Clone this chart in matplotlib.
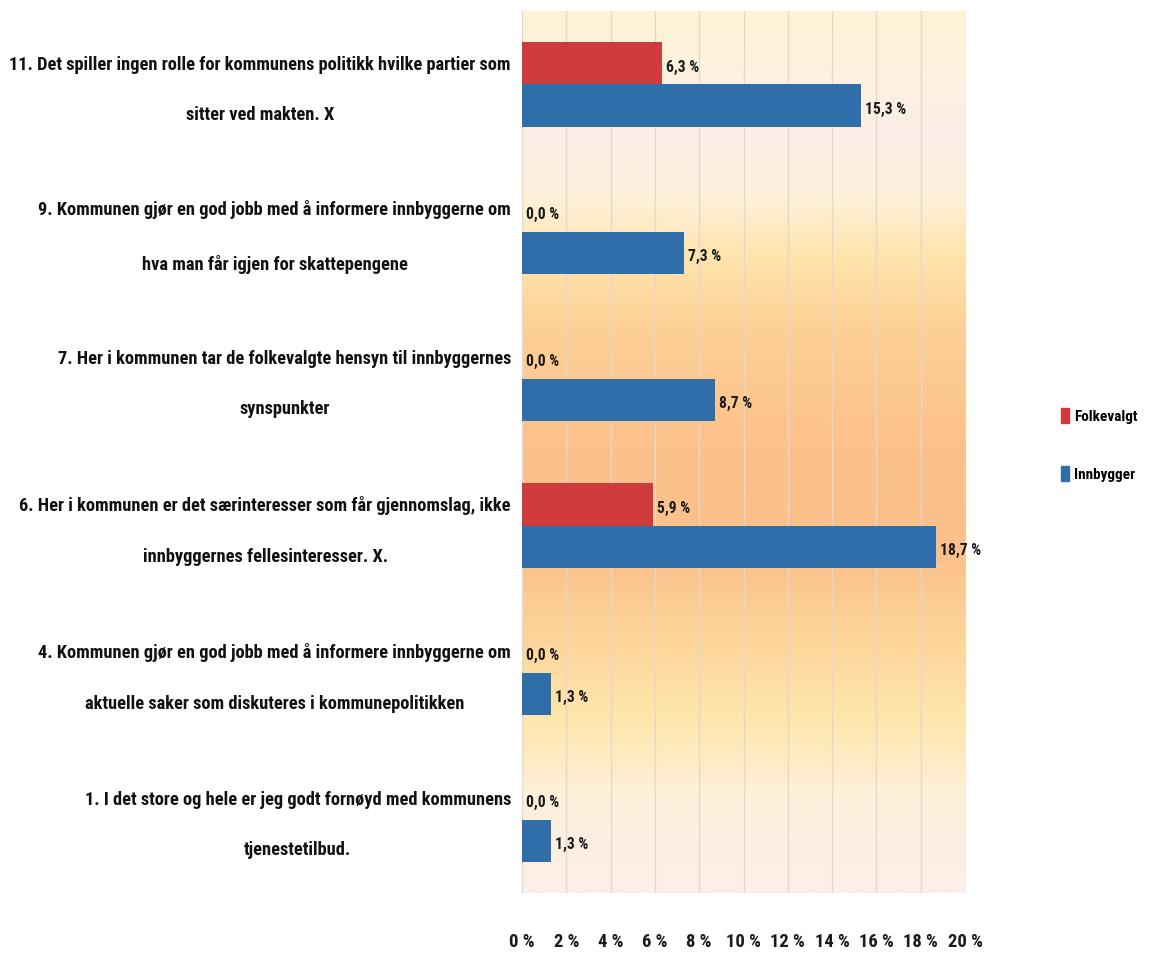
import numpy as np
import matplotlib
matplotlib.use("Agg")
import matplotlib.pyplot as plt
from matplotlib import font_manager as fm
from matplotlib import transforms as mtransforms
from matplotlib.colors import LinearSegmentedColormap
from matplotlib.patches import Patch

# ---------------- data ----------------
categories = [
    "11. Det spiller ingen rolle for kommunens politikk hvilke partier som\nsitter ved makten. X",
    "9. Kommunen gjør en god jobb med å informere innbyggerne om\nhva man får igjen for skattepengene",
    "7. Her i kommunen tar de folkevalgte hensyn til innbyggernes\nsynspunkter",
    "6. Her i kommunen er det særinteresser som får gjennomslag, ikke\ninnbyggernes fellesinteresser. X.",
    "4. Kommunen gjør en god jobb med å informere innbyggerne om\naktuelle saker som diskuteres i kommunepolitikken",
    "1. I det store og hele er jeg godt fornøyd med kommunens\ntjenestetilbud.",
]
folkevalgt = [6.3, 0.0, 0.0, 5.9, 0.0, 0.0]
innbygger = [15.3, 7.3, 8.7, 18.7, 1.3, 1.3]
series_names = ["Folkevalgt", "Innbygger"]
x_ticks = [0, 2, 4, 6, 8, 10, 12, 14, 16, 18, 20]
x_tick_labels = ["0 %", "2 %", "4 %", "6 %", "8 %", "10 %", "12 %", "14 %", "16 %", "18 %", "20 %"]

# ---------------- font: narrowest available ----------------
ttf = fm.fontManager.ttflist
names = {f.name for f in ttf}
FAM, STRETCH = None, "normal"
for cand in ["Roboto Condensed", "Liberation Sans Narrow", "Open Sans Condensed",
             "Arial Narrow", "Noto Sans Condensed"]:
    if cand in names:
        FAM = cand
        break
if FAM is None:
    if any(f.name == "DejaVu Sans" and "ondensed" in f.fname for f in ttf):
        FAM, STRETCH = "DejaVu Sans", "condensed"
    elif "Roboto" in names:
        FAM = "Roboto"
    else:
        FAM = "DejaVu Sans"
plt.rcParams["font.family"] = [FAM, "DejaVu Sans"]
plt.rcParams["font.stretch"] = STRETCH

RED = "#CF3A3C"
BLUE = "#2F6EA8"
TXT = "#1A1A1A"

W, H = 1154, 955
fig = plt.figure(figsize=(W / 100, H / 100), dpi=100)
fig.patch.set_facecolor("white")
ax = fig.add_axes([522 / W, 1 - 893 / H, (965 - 522) / W, (893 - 11) / H])

n = len(categories)
ypos = np.arange(n)[::-1]
bh = 0.29

stops = [
    (0.00, "#FFF4D8"), (0.06, "#FEF2DE"), (0.14, "#FDEDE8"), (0.21, "#FEF0DA"),
    (0.28, "#FFE4AC"), (0.36, "#FDD096"), (0.50, "#FCC18B"), (0.62, "#FBC18D"),
    (0.71, "#FDD49A"), (0.80, "#FFE6AA"), (0.89, "#FEF0DA"), (1.00, "#FDEEEA"),
]
cmap = LinearSegmentedColormap.from_list("bg", stops)
grad = np.linspace(0, 1, 512).reshape(-1, 1)
ax.imshow(grad, cmap=cmap, aspect="auto", extent=[0, 1, 0, 1],
          transform=ax.transAxes, zorder=0, interpolation="bicubic")

ax.set_xlim(0, 20)
ax.set_ylim(-0.5, n - 0.5)

for t in x_ticks:
    ax.axvline(t, color="#E6D6CC", lw=1.0, zorder=1)

b1 = ax.barh(ypos + bh / 2, folkevalgt, height=bh, color=RED, zorder=3, label=series_names[0])
b2 = ax.barh(ypos - bh / 2, innbygger, height=bh, color=BLUE, zorder=3, label=series_names[1])

val_texts = []
for bars, vals in ((b1, folkevalgt), (b2, innbygger)):
    for rect, v in zip(bars, vals):
        lab = f"{v:.1f}".replace(".", ",") + " %"
        t = ax.annotate(lab, xy=(v, rect.get_y() + rect.get_height() / 2),
                        xytext=(3, -3), textcoords="offset points",
                        ha="left", va="center", fontsize=12, fontweight="semibold",
                        color=TXT, zorder=4)
        val_texts.append(t)

for s in ax.spines.values():
    s.set_visible(False)
ax.tick_params(axis="both", length=0)
ax.set_xticks(x_ticks)
ax.set_xticklabels(x_tick_labels, fontsize=13, fontweight="semibold", color=TXT)
ax.tick_params(axis="x", pad=29)
ax.set_yticks(ypos)
ax.set_yticklabels(categories, fontsize=14, fontweight="bold", color="#111111",
                   ha="right", va="center", multialignment="center")
ax.tick_params(axis="y", pad=8)

leg = fig.legend(handles=[Patch(color=RED, label=series_names[0]),
                          Patch(color=BLUE, label=series_names[1])],
                 loc="center left", bbox_to_anchor=(1046 / W, 1 - 445 / H),
                 frameon=False, handlelength=0.45, handleheight=1.0,
                 handletextpad=0.35, labelspacing=2.5,
                 prop={"family": [FAM, "DejaVu Sans"], "stretch": STRETCH,
                       "weight": "semibold", "size": 12})

# ---- fit text sizes to the reference widths ----
fig.canvas.draw()
r = fig.canvas.get_renderer()
ylabs = ax.get_yticklabels()
widths = [lab.get_window_extent(r).width for lab in ylabs]
fs = 14 * 505 / max(widths)
shift = mtransforms.ScaledTranslation(0, -4 / 72, fig.dpi_scale_trans)
for lab in ylabs:
    lab.set_fontsize(fs)
    lab.set_linespacing(51 / (fs * 100 / 72) * 53 / 44)
    lab.set_transform(lab.get_transform() + shift)

wv = val_texts[n].get_window_extent(r).width
sv = 12 * 41 / wv
for t in val_texts:
    t.set_fontsize(sv)

wt = ax.get_xticklabels()[-1].get_window_extent(r).width
for lab in ax.get_xticklabels():
    lab.set_fontsize(13 * 35 / wt)

wl = leg.get_texts()[0].get_window_extent(r).width
for t in leg.get_texts():
    t.set_fontsize(12 * 64 / wl)

fig.savefig("out.png", dpi=100, facecolor="white")
